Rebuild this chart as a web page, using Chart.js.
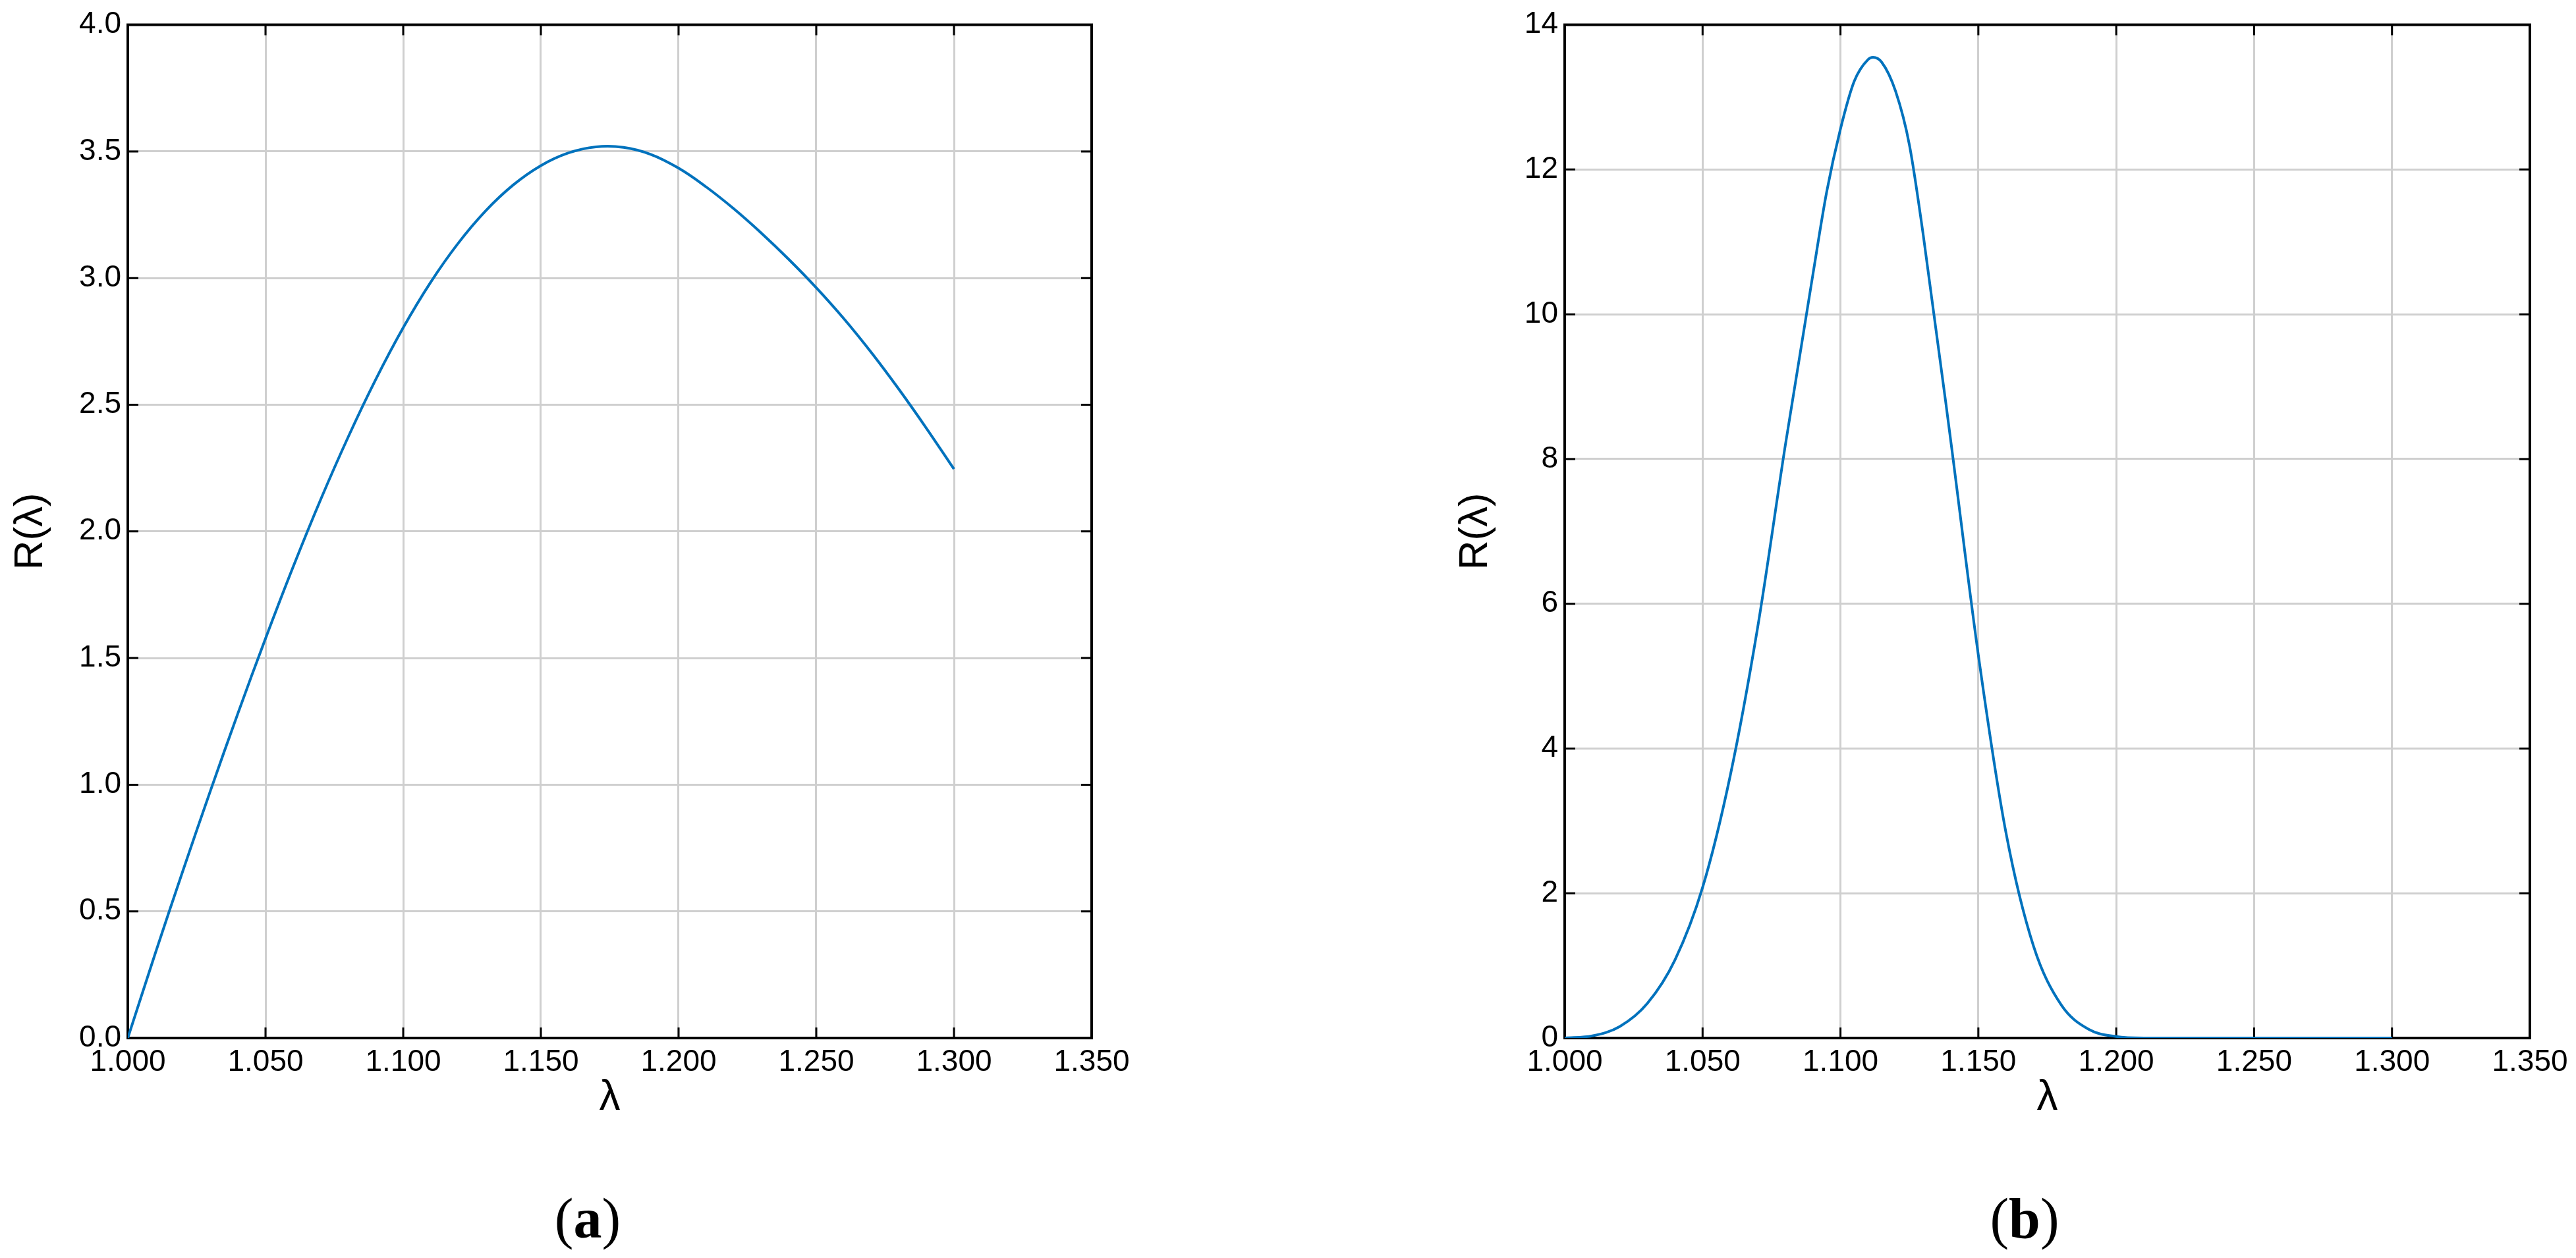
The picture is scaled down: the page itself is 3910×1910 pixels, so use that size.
<!DOCTYPE html>
<html>
<head>
<meta charset="utf-8">
<title>R(λ)</title>
<script src="https://cdn.jsdelivr.net/npm/chart.js@4/dist/chart.umd.min.js"></script>
<style>
  body { margin: 0; background: #fff; width: 3910px; height: 1910px; overflow: hidden; position: relative; }
  .panel { position: absolute; top: 0; }
  .cap { position: absolute; top: 1807px; width: 400px; text-align: center;
         font: 86px/86px "Liberation Serif", "Times New Roman", serif; color: #000; }
</style>
</head>
<body>
<div class="panel" style="left:0px"><canvas id="chartA" width="1760" height="1720"></canvas></div>
<div class="panel" style="left:2181px"><canvas id="chartB" width="1729" height="1720"></canvas></div>
<div class="cap" style="left:692px">(<b>a</b>)</div>
<div class="cap" style="left:2873px">(<b>b</b>)</div>

<script>
"use strict";

// panel (a)
const lambdaA = [1.00, 1.01, 1.02, 1.03, 1.04, 1.05, 1.06, 1.07, 1.08, 1.09, 1.10,
                 1.11, 1.12, 1.13, 1.14, 1.15, 1.16, 1.17, 1.18, 1.19, 1.20,
                 1.21, 1.22, 1.23, 1.24, 1.25, 1.26, 1.27, 1.28, 1.29, 1.30];
const rA = [0, 0.335, 0.660, 0.976, 1.282, 1.577, 1.859, 2.125, 2.372, 2.599, 2.804,
            2.984, 3.138, 3.266, 3.368, 3.444, 3.494, 3.518, 3.516, 3.488, 3.434,
            3.360, 3.274, 3.178, 3.074, 2.962, 2.840, 2.706, 2.561, 2.407, 2.246];

// panel (b)
const lambdaB = [1.00, 1.01, 1.02, 1.03, 1.04, 1.05, 1.06, 1.07, 1.08, 1.09, 1.095,
                 1.10, 1.105, 1.11, 1.1118, 1.115, 1.12, 1.125, 1.13, 1.14, 1.15,
                 1.16, 1.17, 1.18, 1.19, 1.20, 1.21, 1.22, 1.23, 1.24, 1.25,
                 1.26, 1.27, 1.28, 1.29, 1.30];
const rB = [0, 0.03, 0.16, 0.48, 1.08, 2.08, 3.62, 5.68, 8.19, 10.55, 11.69,
            12.56, 13.22, 13.52, 13.55, 13.48, 13.08, 12.34, 11.1, 8.25, 5.29,
            2.84, 1.27, 0.46, 0.12, 0.02, 0, 0, 0, 0, 0,
            0, 0, 0, 0, 0];

const xTicks = [1.00, 1.05, 1.10, 1.15, 1.20, 1.25, 1.30, 1.35];
const yTicksA = [0, 0.5, 1.0, 1.5, 2.0, 2.5, 3.0, 3.5, 4.0];
const yTicksB = [0, 2, 4, 6, 8, 10, 12, 14];

const BLUE = '#0072BD';
const GRID = '#cfcfcf';
const TICK_LEN = 16;

// black frame + inward tick marks on all four sides
const boxPlugin = {
  id: 'box',
  beforeDatasetsDraw(chart) {
    const {ctx, chartArea: a, scales: {x, y}} = chart;
    ctx.save();
    ctx.strokeStyle = '#000';
    ctx.lineWidth = 3;
    ctx.beginPath();
    x.ticks.forEach((t) => {
      const px = x.getPixelForValue(t.value);
      ctx.moveTo(px, a.bottom); ctx.lineTo(px, a.bottom - TICK_LEN);
      ctx.moveTo(px, a.top); ctx.lineTo(px, a.top + TICK_LEN);
    });
    y.ticks.forEach((t) => {
      const py = y.getPixelForValue(t.value);
      ctx.moveTo(a.left, py); ctx.lineTo(a.left + TICK_LEN, py);
      ctx.moveTo(a.right, py); ctx.lineTo(a.right - TICK_LEN, py);
    });
    ctx.stroke();
    ctx.lineWidth = 4;
    ctx.strokeRect(a.left, a.top, a.right - a.left, a.bottom - a.top);
    ctx.restore();
  }
};

const makeChart = (id, xs, ys, yTicks, decimals, rightPad, titlePad, interp) => {
  const data = xs.map((v, i) => ({x: v, y: ys[i]}));
  return new Chart(document.getElementById(id), {
    type: 'line',
    data: {
      datasets: [{
        data: data,
        borderColor: BLUE,
        borderWidth: 4,
        pointRadius: 0,
        fill: false,
        tension: 0.4,
        cubicInterpolationMode: interp
      }]
    },
    options: {
      responsive: false,
      animation: false,
      devicePixelRatio: 1,
      layout: {padding: {left: 0, top: 28, right: rightPad, bottom: 0}},
      plugins: {legend: {display: false}, tooltip: {enabled: false}},
      scales: {
        x: {
          type: 'linear',
          min: xTicks[0],
          max: xTicks[xTicks.length - 1],
          afterBuildTicks: (s) => { s.ticks = xTicks.map((v) => ({value: v})); },
          afterFit: (s) => { s.height = 144; },
          border: {display: false},
          grid: {color: GRID, lineWidth: 3, drawTicks: false},
          ticks: {
            autoSkip: false, maxRotation: 0, padding: 10, color: '#000',
            font: {family: '"Liberation Sans", Arial, sans-serif', size: 46},
            callback: (v) => Number(v).toFixed(3)
          },
          title: {
            display: true, text: 'λ', color: '#000',
            font: {family: '"Liberation Sans", Arial, sans-serif', size: 64},
            padding: {top: 0, bottom: 14}
          }
        },
        y: {
          type: 'linear',
          min: yTicks[0],
          max: yTicks[yTicks.length - 1],
          afterBuildTicks: (s) => { s.ticks = yTicks.map((v) => ({value: v})); },
          afterFit: (s) => { s.width = 194; },
          border: {display: false},
          grid: {color: GRID, lineWidth: 3, drawTicks: false},
          ticks: {
            padding: 10, color: '#000',
            font: {family: '"Liberation Sans", Arial, sans-serif', size: 46},
            callback: (v) => Number(v).toFixed(decimals)
          },
          title: {
            display: true, text: 'R(λ)', color: '#000',
            font: {family: '"Liberation Sans", Arial, sans-serif', size: 62},
            padding: {top: titlePad, bottom: 0}
          }
        }
      }
    },
    plugins: [boxPlugin]
  });
};

makeChart('chartA', lambdaA, rA, yTicksA, 1, 103, 10, 'default');
makeChart('chartB', lambdaB, rB, yTicksB, 0, 70, 22, 'monotone');
</script>
</body>
</html>
